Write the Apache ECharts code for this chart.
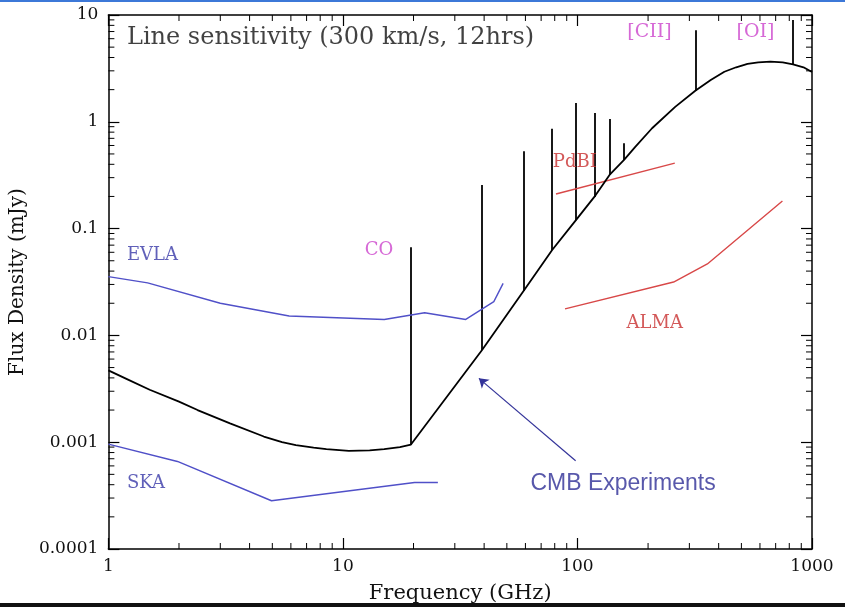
<!DOCTYPE html>
<html>
<head>
<meta charset="utf-8">
<script src="https://cdn.jsdelivr.net/npm/echarts@6/dist/echarts.min.js"></script>
<style>
  html, body { margin: 0; padding: 0; background: #fff; }
  #chart { width: 845px; height: 610px; }
</style>
</head>
<body>
<div id="chart"></div>
<script>
// continuum sensitivity curve (GHz, mJy)
var curveFreq = [1, 1.2, 1.5, 2, 2.4, 3.3, 4.6, 5.5, 6.3, 7.5, 8.5, 10.6, 13, 15, 17.5, 19.5, 39.2, 58.9, 78, 98.5, 118, 137, 158, 176, 208, 261, 318, 370, 423, 475, 531, 590, 665, 750, 830, 920, 1000];
var curveFlux = [0.0047, 0.0039, 0.0031, 0.0024, 0.002, 0.0015, 0.00113, 0.001, 0.00094, 0.00089, 0.00086, 0.00083, 0.00084, 0.00086, 0.0009, 0.00095, 0.0073, 0.026, 0.063, 0.12, 0.198, 0.318, 0.44, 0.58, 0.87, 1.38, 1.95, 2.46, 2.94, 3.24, 3.48, 3.6, 3.66, 3.6, 3.45, 3.24, 2.93];

// line spikes (CO ladder, [CII], [OI])
var spikeFreq = [19.5, 39.2, 58.9, 78, 98.5, 118, 137, 158, 318, 830];
var spikeBase = [0.00095, 0.0073, 0.026, 0.063, 0.12, 0.198, 0.318, 0.44, 1.95, 3.45];
var spikeTop = [0.067, 0.256, 0.53, 0.86, 1.5, 1.21, 1.06, 0.63, 7.2, 9.0];

var evlaFreq = [1, 1.47, 3.0, 5.9, 15, 22.3, 33.4, 44, 48.2];
var evlaFlux = [0.0355, 0.031, 0.020, 0.0152, 0.0141, 0.0163, 0.0141, 0.0207, 0.0307];

var skaFreq = [1, 1.97, 4.96, 20.2, 25.4];
var skaFlux = [0.00096, 0.00066, 0.000283, 0.00042, 0.00042];

var pdbiFreq = [81, 260];
var pdbiFlux = [0.211, 0.41];

var almaFreq = [88.5, 257, 358, 748];
var almaFlux = [0.0177, 0.0316, 0.0467, 0.181];

var xTicks = [1, 10, 100, 1000];
var yTicks = [0.0001, 0.001, 0.01, 0.1, 1, 10];

function zip(a, b) { return a.map(function (v, i) { return [v, b[i]]; }); }

// minor tick positions 2..9 within each decade
var xMinor = [], yMinor = [];
for (var d = 0; d < xTicks.length - 1; d++) {
  for (var m = 2; m <= 9; m++) xMinor.push(xTicks[d] * m);
}
for (var d2 = 0; d2 < yTicks.length - 1; d2++) {
  for (var m2 = 2; m2 <= 9; m2++) yMinor.push(yTicks[d2] * m2);
}

function yLabel(v) {
  var e = Math.round(Math.log10(v));
  if (e >= 0) return String(Math.pow(10, e));
  return '0.' + '0'.repeat(-e - 1) + '1';
}

var serif = 'DejaVu Serif';
var blue = '#5050c8', red = '#d84848', magenta = '#cc44cc';

var labels = [
  { name: 'Line sensitivity (300 km/s, 12hrs)', value: [1.2, 6.15], color: '#111', size: 24 },
  { name: 'EVLA', value: [1.2, 0.056], color: '#3838a8', size: 18 },
  { name: 'SKA', value: [1.2, 0.00041], color: '#3838a8', size: 18 },
  { name: 'CO', value: [12.4, 0.063], color: magenta, size: 18 },
  { name: 'PdBI', value: [78.5, 0.42], color: '#c83030', size: 18 },
  { name: 'ALMA', value: [162, 0.0131], color: '#c83030', size: 18 },
  { name: '[CII]', value: [163, 6.9], color: magenta, size: 19 },
  { name: '[OI]', value: [477, 6.9], color: magenta, size: 19 },
  { name: 'CMB Experiments', value: [63, 0.00041], color: '#2e2e96', size: 23, font: 'Liberation Sans' }
];

var chart = echarts.init(document.getElementById('chart'));

var axisLine = { show: true, lineStyle: { color: '#000', width: 1.5 } };
var majorTick = { show: true, inside: true, length: 11, lineStyle: { color: '#000', width: 1.2 } };

var option = {
  animation: false,
  backgroundColor: '#fff',
  grid: { left: 100, right: 33, top: 15, bottom: 61 },
  xAxis: [
    {
      type: 'log', logBase: 10, min: 1, max: 1000,
      axisLine: axisLine, axisTick: majorTick, splitLine: { show: false },
      axisLabel: { color: '#111', fontFamily: serif, fontSize: 17, margin: 9,
        formatter: function (v) { return String(Math.round(v)); } },
      name: 'Frequency (GHz)', nameLocation: 'middle', nameGap: 34,
      nameTextStyle: { color: '#111', fontFamily: serif, fontSize: 21 }
    },
    {
      type: 'log', logBase: 10, min: 1, max: 1000, position: 'top',
      axisLine: axisLine, axisTick: majorTick, axisLabel: { show: false }, splitLine: { show: false }
    }
  ],
  yAxis: [
    {
      type: 'log', logBase: 10, min: 0.0001, max: 10,
      axisLine: axisLine, axisTick: majorTick, splitLine: { show: false },
      axisLabel: { color: '#111', fontFamily: serif, fontSize: 17, margin: 10, formatter: yLabel },
      name: 'Flux Density (mJy)', nameLocation: 'middle', nameGap: 70, nameRotate: 90,
      nameTextStyle: { color: '#111', fontFamily: serif, fontSize: 20 }
    },
    {
      type: 'log', logBase: 10, min: 0.0001, max: 10, position: 'right',
      axisLine: axisLine, axisTick: majorTick, axisLabel: { show: false }, splitLine: { show: false }
    }
  ],
  series: [
    { type: 'line', data: zip(evlaFreq, evlaFlux), showSymbol: false, silent: true,
      lineStyle: { color: blue, width: 1.4 } },
    { type: 'line', data: zip(skaFreq, skaFlux), showSymbol: false, silent: true,
      lineStyle: { color: blue, width: 1.4 } },
    { type: 'line', data: zip(pdbiFreq, pdbiFlux), showSymbol: false, silent: true,
      lineStyle: { color: red, width: 1.4 } },
    { type: 'line', data: zip(almaFreq, almaFlux), showSymbol: false, silent: true,
      lineStyle: { color: red, width: 1.4 } },
    { type: 'line', data: zip(curveFreq, curveFlux), showSymbol: false, silent: true,
      lineStyle: { color: '#000', width: 1.8 } },
    { type: 'lines', coordinateSystem: 'cartesian2d', silent: true,
      lineStyle: { color: '#000', width: 1.8, opacity: 1 },
      data: spikeFreq.map(function (f, i) { return { coords: [[f, spikeBase[i]], [f, spikeTop[i]]] }; }) },
    { type: 'lines', coordinateSystem: 'cartesian2d', silent: true,
      symbol: ['none', 'arrow'], symbolSize: 9,
      lineStyle: { color: '#333399', width: 1.2, opacity: 1 },
      data: [{ coords: [[98.2, 0.00067], [38.0, 0.00396]] }] },
    { type: 'scatter', symbolSize: 0, silent: true, z: 10,
      data: labels.map(function (l) {
        return { name: l.name, value: l.value,
          label: { show: true, position: 'right', distance: 0, formatter: '{b}',
            color: l.color, fontSize: l.size, fontFamily: l.font || serif } };
      }) }
  ]
};

chart.setOption(option);

// minor ticks (2..9 per decade) on all four sides, placed through the axes' own scales
var gx0 = chart.convertToPixel({ xAxisIndex: 0 }, 1);
var gx1 = chart.convertToPixel({ xAxisIndex: 0 }, 1000);
var gy0 = chart.convertToPixel({ yAxisIndex: 0 }, 0.0001);
var gy1 = chart.convertToPixel({ yAxisIndex: 0 }, 10);
var tickStyle = { stroke: '#000', lineWidth: 1 };
var graphics = [
  { type: 'rect', shape: { x: 0, y: 0, width: 845, height: 2 }, style: { fill: '#3c78d8' }, silent: true },
  { type: 'rect', shape: { x: 0, y: 603, width: 845, height: 4 }, style: { fill: '#111' }, silent: true }
];
xMinor.forEach(function (v) {
  var px = chart.convertToPixel({ xAxisIndex: 0 }, v);
  graphics.push({ type: 'line', silent: true, z: 5, shape: { x1: px, y1: gy0, x2: px, y2: gy0 - 6 }, style: tickStyle });
  graphics.push({ type: 'line', silent: true, z: 5, shape: { x1: px, y1: gy1, x2: px, y2: gy1 + 6 }, style: tickStyle });
});
yMinor.forEach(function (v) {
  var py = chart.convertToPixel({ yAxisIndex: 0 }, v);
  graphics.push({ type: 'line', silent: true, z: 5, shape: { x1: gx0, y1: py, x2: gx0 + 6, y2: py }, style: tickStyle });
  graphics.push({ type: 'line', silent: true, z: 5, shape: { x1: gx1, y1: py, x2: gx1 - 6, y2: py }, style: tickStyle });
});
chart.setOption({ graphic: graphics });
</script>
</body>
</html>
